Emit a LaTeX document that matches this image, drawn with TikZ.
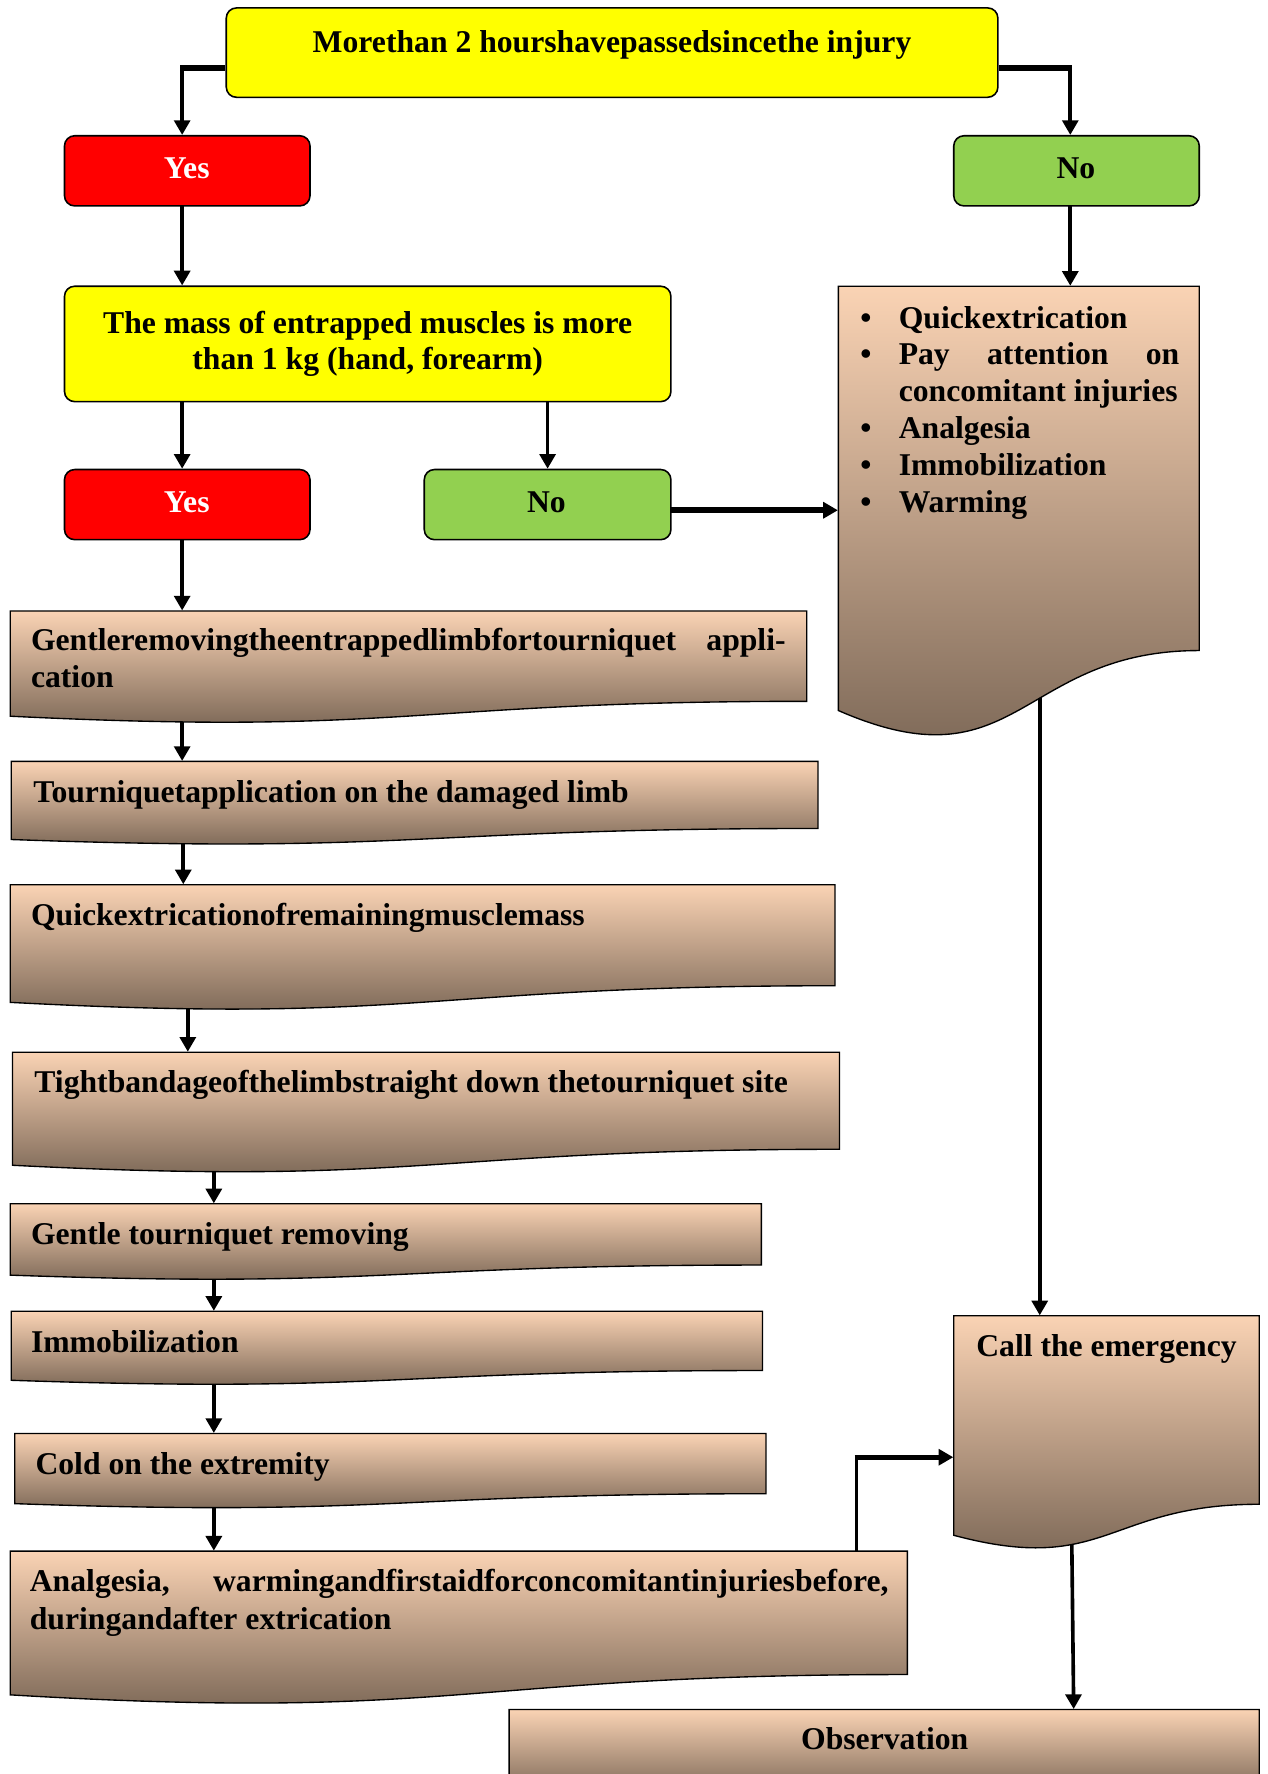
\documentclass[tikz,border=0pt]{standalone}
\usepackage{fontspec}
\setmainfont{Liberation Serif}
\usetikzlibrary{arrows.meta,fit,backgrounds}
\definecolor{docTop}{HTML}{FAD3B4}
\definecolor{docBot}{HTML}{736050}
\definecolor{ylw}{HTML}{FFFF00}
\definecolor{rd}{HTML}{FF0000}
\definecolor{grn}{HTML}{92D050}
\tikzset{
 rbox/.style={draw=black, line width=0.7pt, rounded corners=4.5pt, inner sep=0pt},
 docshape/.style={draw=black, line width=0.6pt, top color=docTop, bottom color=docBot},
 lbl/.style={inner sep=0pt, font=\fontsize{14}{16.3}\selectfont\bfseries},
 conn/.style={line width=1.6pt, -{Triangle[length=6.5pt,width=7pt]}},
 stub/.style={line width=2.4pt},
 heavy/.style={line width=2.5pt, -{Triangle[length=6.5pt,width=7pt]}},
}
% name, left, top, right, height
\newcommand\docbox[5]{%
  \path[docshape] (#2,#3) -- (#4,#3) -- (#4,{#3+0.802*#5})
    .. controls ({(#2+#4)/2},{#3+0.802*#5}) and ({(#2+#4)/2},{#3+1.1076*#5}) .. (#2,{#3+0.934*#5}) -- cycle;
  \node[fit={(#2,#3) (#4,{#3+0.802*#5})}, inner sep=0pt] (#1) {};
}
\begin{document}
\begin{tikzpicture}[x=0.5pt,y=-0.5pt]
\useasboundingbox (0,0) rectangle (1120,1568);
\clip (0,0) rectangle (1120,1568);

% rounded boxes
\node[rbox, fill=ylw, fit={(200,7) (882,86)}] (top) {};
\node[rbox, fill=rd, fit={(57,120) (274,182)}] (yes1) {};
\node[rbox, fill=grn, fit={(843,120) (1060,182)}] (no1) {};
\node[rbox, fill=ylw, fit={(57,253) (593,355)}] (mass) {};
\node[rbox, fill=rd, fit={(57,415) (274,477)}] (yes2) {};
\node[rbox, fill=grn, fit={(375,415) (593,477)}] (no2) {};

% document boxes
\docbox{bul}{741}{253}{1060}{401.5}
\docbox{a}{9}{540}{713}{99.6}
\docbox{b}{10}{673}{723}{73.9}
\docbox{c}{9}{782}{738}{111.3}
\docbox{d}{11}{930}{742}{107}
\docbox{e}{9}{1064}{673}{67.5}
\docbox{f}{10}{1159}{674}{65.3}
\docbox{g}{13}{1267}{677}{66.4}
\docbox{h}{9}{1371}{802}{136}
\docbox{call}{843}{1163}{1113}{207.7}
\docbox{obs}{450}{1511}{1113}{72}

% texts
\node[lbl, anchor=base] (top-t) at (541,46) {Morethan 2 hourshavepassedsincethe injury};
\node[lbl, anchor=base, white] (yes1-t) at (165,158) {Yes};
\node[lbl, anchor=base] (no1-t) at (951,158) {No};
\node[lbl, anchor=base] (mass-t1) at (325,295) {The mass of entrapped muscles is more};
\node[lbl, anchor=base] (mass-t2) at (325,327) {than 1 kg (hand, forearm)};
\node[lbl, anchor=base, white] (yes2-t) at (165,453) {Yes};
\node[lbl, anchor=base] (no2-t) at (483,453) {No};
\node[lbl, anchor=base west] (bul-t) at (760,290) {\begin{tabular}[t]{@{}p{17pt}@{}l@{}}
•&Quickextrication\\
•&\makebox[124pt][s]{Pay attention on}\\
&concomitant injuries\\
•&Analgesia\\
•&Immobilization\\
•&Warming\end{tabular}};
\node[lbl, anchor=base west] (a-t1) at (27,575) {\makebox[333.5pt][s]{Gentleremovingtheentrappedlimbfortourniquet appli-}};
\node[lbl, anchor=base west] (a-t2) at (27,608) {cation};
\node[lbl, anchor=base west] (b-t) at (29,709) {Tourniquetapplication on the damaged limb};
\node[lbl, anchor=base west] (c-t) at (27,818) {Quickextricationofremainingmusclemass};
\node[lbl, anchor=base west] (d-t) at (30,966) {Tightbandageofthelimbstraight down thetourniquet site};
\node[lbl, anchor=base west] (e-t) at (27,1100) {Gentle tourniquet removing};
\node[lbl, anchor=base west] (f-t) at (27,1195) {Immobilization};
\node[lbl, anchor=base west] (g-t) at (31,1303) {Cold on the extremity};
\node[lbl, anchor=base west] (h-t1) at (26,1407) {\makebox[379.5pt][s]{Analgesia, warmingandfirstaidforconcomitantinjuriesbefore,}};
\node[lbl, anchor=base west] (h-t2) at (26,1440) {duringandafter extrication};
\node[lbl, anchor=base] (call-t) at (978,1199) {Call the emergency};
\node[lbl, anchor=base] (obs-t) at (782,1546) {Observation};

% connectors
\begin{scope}[on background layer]
\coordinate (tl) at (top.west |- 0,60);
\coordinate (tr) at (top.east |- 0,60);
\coordinate (k1) at (161,0);
\coordinate (k2) at (946,0);
\coordinate (k3) at (0,451);
\coordinate (k4) at (162,0);
\coordinate (k5) at (166,0);
\coordinate (k6) at (189,0);
\coordinate (k7) at (919,0);
\coordinate (k8) at (757,1288);
\draw[conn] (tl) -| (yes1.north -| k1);
\draw[stub] (tl) -- ([xshift=-0.8pt]tl -| k1);
\draw[conn] (tr) -| (no1.north -| k2);
\draw[stub] (tr) -- ([xshift=0.8pt]tr -| k2);
\draw[conn] (yes1.center -| k1) -- (mass.north -| k1);
\draw[conn] (no1.center -| k2) -- (bul.north -| k2);
\draw[conn] (mass.center -| k1) -- (yes2.north -| k1);
\draw[conn] (mass.center -| no2.north) -- (no2.north);
\draw[heavy] (no2.center |- k3) -- (bul.west |- k3);
\draw[conn] (yes2.center -| k1) -- (a.north -| k1);
\draw[conn] (a.center -| k1) -- (b.north -| k1);
\draw[conn] (b.center -| k4) -- (c.north -| k4);
\draw[conn] (c.center -| k5) -- (d.north -| k5);
\draw[conn] (d.center -| k6) -- (e.north -| k6);
\draw[conn] (e.center -| k6) -- (f.north -| k6);
\draw[conn] (f.center -| k6) -- (g.north -| k6);
\draw[conn] (g.center -| k6) -- (h.north -| k6);
\draw[conn] (bul.center -| k7) -- (call.north -| k7);
\draw[conn] (h.center -| k8) |- (call.west |- k8);
\draw[stub] ([xshift=-0.8pt]k8) -- ([xshift=-5.5pt]call.west |- k8);
\draw[conn] (call.center -| 946,0) -- (obs.north -| 949,0);
\end{scope}
\end{tikzpicture}
\end{document}
